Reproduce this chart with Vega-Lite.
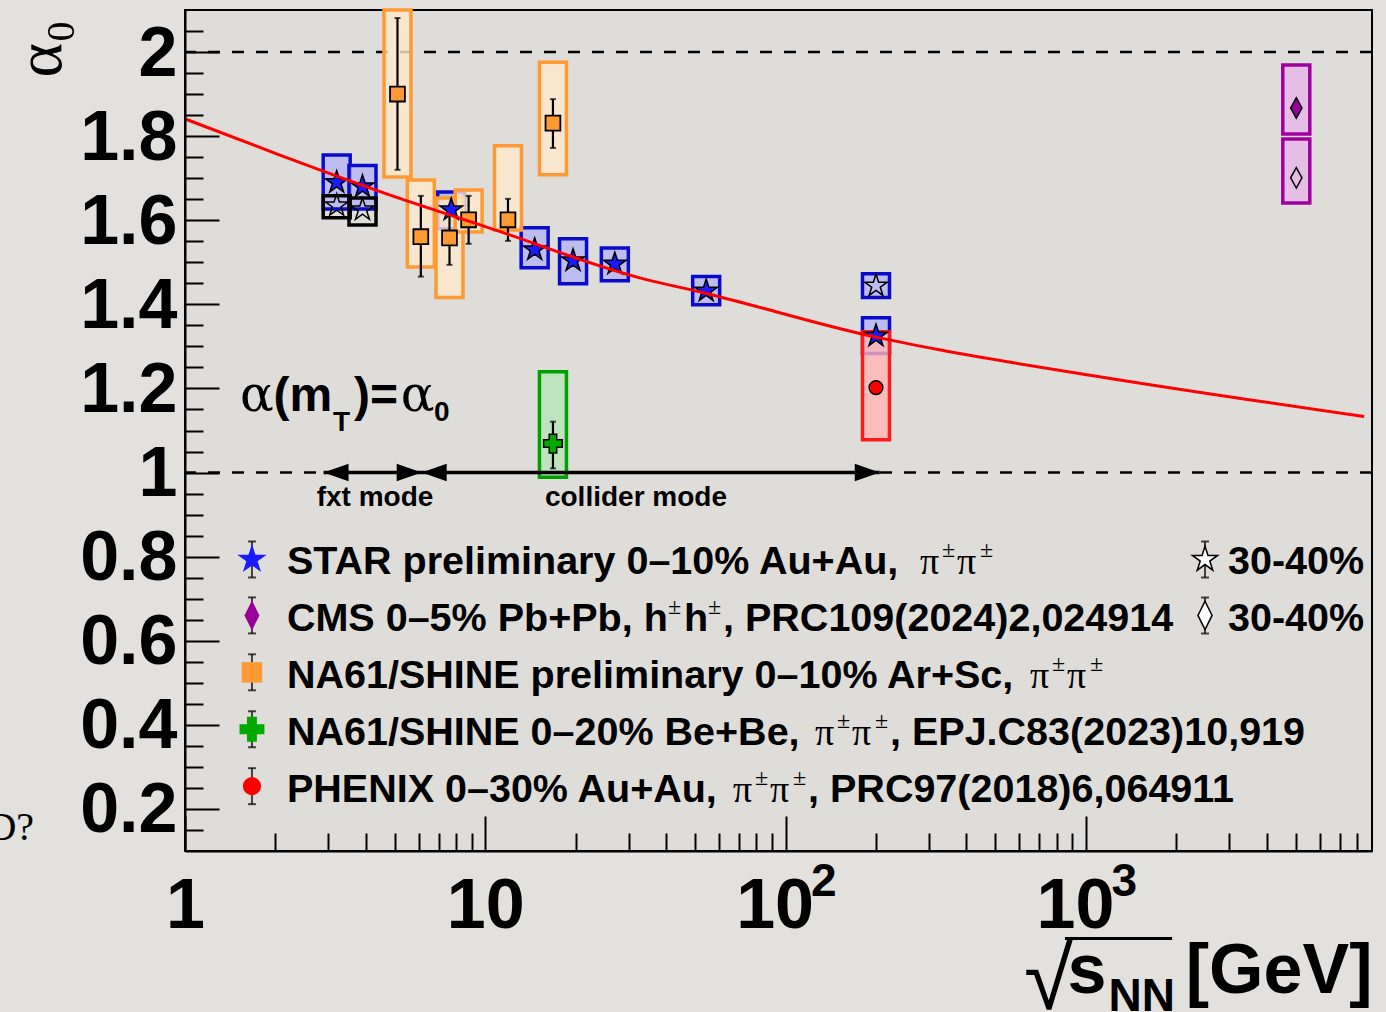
{
  "$schema": "https://vega.github.io/schema/vega-lite/v6.json",
  "width": 1187,
  "height": 841,
  "autosize": {"type": "none"},
  "padding": {"left": 185, "top": 10, "right": 14, "bottom": 161},
  "background": "#e3e1de",
  "config": {
    "view": {"stroke": "black", "strokeWidth": 2, "fill": "#dfddd9"},
    "axis": {"zindex": 1, "grid": false}
  },
  "datasets": {
    "points": [
      {"series": "STAR 0-10%", "x": 3.2, "y": 1.69, "slo": 1.627, "shi": 1.755},
      {"series": "STAR 0-10%", "x": 3.9, "y": 1.68, "slo": 1.627, "shi": 1.73},
      {"series": "STAR 0-10%", "x": 7.7, "y": 1.625, "slo": 1.58, "shi": 1.667},
      {"series": "STAR 0-10%", "x": 14.6, "y": 1.53, "slo": 1.487, "shi": 1.582},
      {"series": "STAR 0-10%", "x": 19.6, "y": 1.504, "slo": 1.449, "shi": 1.556},
      {"series": "STAR 0-10%", "x": 27, "y": 1.496, "slo": 1.456, "shi": 1.534},
      {"series": "STAR 0-10%", "x": 54.4, "y": 1.432, "slo": 1.399, "shi": 1.466},
      {"series": "STAR 0-10%", "x": 200, "y": 1.325, "slo": 1.283, "shi": 1.368},
      {"series": "STAR 30-40% FXT", "x": 3.2, "y": 1.635, "slo": 1.606, "shi": 1.658},
      {"series": "STAR 30-40% FXT", "x": 3.9, "y": 1.625, "slo": 1.589, "shi": 1.653},
      {"series": "STAR 30-40%", "x": 200, "y": 1.444, "slo": 1.416, "shi": 1.473},
      {"series": "NA61 Ar+Sc", "x": 5.1, "y": 1.9, "elo": 1.72, "ehi": 2.081, "slo": 1.703, "shi": 2.1},
      {"series": "NA61 Ar+Sc", "x": 6.1, "y": 1.561, "elo": 1.466, "ehi": 1.658, "slo": 1.489, "shi": 1.696},
      {"series": "NA61 Ar+Sc", "x": 7.6, "y": 1.558, "elo": 1.494, "ehi": 1.62, "slo": 1.416, "shi": 1.653},
      {"series": "NA61 Ar+Sc", "x": 8.8, "y": 1.601, "elo": 1.544, "ehi": 1.658, "slo": 1.572, "shi": 1.672},
      {"series": "NA61 Ar+Sc", "x": 11.9, "y": 1.601, "elo": 1.551, "ehi": 1.651, "slo": 1.577, "shi": 1.777},
      {"series": "NA61 Ar+Sc", "x": 16.8, "y": 1.831, "elo": 1.772, "ehi": 1.888, "slo": 1.708, "shi": 1.976},
      {"series": "NA61 Be+Be", "x": 16.8, "y": 1.069, "elo": 1.01, "ehi": 1.121, "slo": 0.989, "shi": 1.24},
      {"series": "PHENIX", "x": 200, "y": 1.202, "elo": 1.188, "ehi": 1.214, "slo": 1.078, "shi": 1.335},
      {"series": "CMS 0-5%", "x": 5020, "y": 1.867, "slo": 1.805, "shi": 1.969},
      {"series": "CMS 30-40%", "x": 5020, "y": 1.701, "slo": 1.641, "shi": 1.793}
    ],
    "curve": [
      {"x": 1, "y": 1.841}, {"x": 2.07, "y": 1.755}, {"x": 5.19, "y": 1.652}, {"x": 10, "y": 1.585},
      {"x": 32.7, "y": 1.463}, {"x": 54.4, "y": 1.426}, {"x": 200, "y": 1.322}, {"x": 325, "y": 1.292},
      {"x": 1109, "y": 1.228}, {"x": 8450, "y": 1.133}
    ],
    "hlines": [{"y": 1}, {"y": 2}],
    "shaft": [{"x": 2.894, "x2": 205.9, "y": 1}],
    "heads": [
      {"x": 2.894, "y": 1, "dir": "left"}, {"x": 6.14, "y": 1, "dir": "right"},
      {"x": 6.14, "y": 1, "dir": "left"}, {"x": 205.9, "y": 1, "dir": "right"}
    ],
    "legmarks": [
      {"series": "STAR 0-10%", "x": 1.671, "y": 0.7933},
      {"series": "CMS 0-5%", "x": 1.671, "y": 0.6603},
      {"series": "NA61 Ar+Sc", "x": 1.671, "y": 0.5249},
      {"series": "NA61 Be+Be", "x": 1.671, "y": 0.3895},
      {"series": "PHENIX", "x": 1.671, "y": 0.2542},
      {"series": "STAR 30-40%", "x": 2493, "y": 0.7933},
      {"series": "CMS 30-40%", "x": 2493, "y": 0.6603}
    ],
    "legtext": [
      {"x": 2.185, "y": 0.7577, "t": "STAR preliminary 0–10% Au+Au,"},
      {"x": 2.185, "y": 0.6223, "t": "CMS 0–5% Pb+Pb, h"},
      {"x": 45.9, "y": 0.6223, "t": "h"},
      {"x": 61.9, "y": 0.6223, "t": ", PRC109(2024)2,024914"},
      {"x": 2.185, "y": 0.4869, "t": "NA61/SHINE preliminary 0–10% Ar+Sc,"},
      {"x": 2.185, "y": 0.3515, "t": "NA61/SHINE 0–20% Be+Be,"},
      {"x": 222.7, "y": 0.3515, "t": ", EPJ.C83(2023)10,919"},
      {"x": 2.185, "y": 0.2162, "t": "PHENIX 0–30% Au+Au,"},
      {"x": 118.8, "y": 0.2162, "t": ", PRC97(2018)6,064911"},
      {"x": 2973, "y": 0.7577, "t": "30-40%"},
      {"x": 2973, "y": 0.6223, "t": "30-40%"}
    ],
    "legpi": [
      {"x": 280.3, "y": 0.7577, "t": "π"}, {"x": 372.2, "y": 0.7577, "t": "π"},
      {"x": 651.5, "y": 0.4869, "t": "π"}, {"x": 865.0, "y": 0.4869, "t": "π"},
      {"x": 125.3, "y": 0.3515, "t": "π"}, {"x": 166.4, "y": 0.3515, "t": "π"},
      {"x": 66.8, "y": 0.2162, "t": "π"}, {"x": 88.8, "y": 0.2162, "t": "π"}
    ],
    "legpm": [
      {"x": 331.8, "y": 0.7981, "t": "±"}, {"x": 444.0, "y": 0.7981, "t": "±"},
      {"x": 40.6, "y": 0.6627, "t": "±"}, {"x": 55.2, "y": 0.6627, "t": "±"},
      {"x": 771.2, "y": 0.5273, "t": "±"}, {"x": 1031.9, "y": 0.5273, "t": "±"},
      {"x": 148.3, "y": 0.3919, "t": "±"}, {"x": 198.5, "y": 0.3919, "t": "±"},
      {"x": 79.1, "y": 0.2565, "t": "±"}, {"x": 105.8, "y": 0.2565, "t": "±"}
    ],
    "annserif": [
      {"x": 1.5246, "y": 1.1473, "t": "α"},
      {"x": 5.232, "y": 1.1473, "t": "α"}
    ],
    "annsans": [
      {"x": 1.9727, "y": 1.1473, "t": "(m"},
      {"x": 3.654, "y": 1.1473, "t": ")="}
    ],
    "annsub": [
      {"x": 3.11, "y": 1.0998, "t": "T"},
      {"x": 6.75, "y": 1.1235, "t": "0"}
    ],
    "modes": [
      {"x": 4.294, "y": 0.92, "t": "fxt mode"},
      {"x": 31.75, "y": 0.92, "t": "collider mode"}
    ],
    "stray": [{"x": 0.3143, "y": 0.1259, "t": "D?"}]
  },
  "layer": [
    {
      "data": {"name": "hlines"},
      "mark": {"type": "rule", "color": "black", "strokeWidth": 2.5, "strokeDash": [12, 12]},
      "encoding": {
        "y": {"field": "y", "type": "quantitative", "scale": {"domain": [0.1, 2.1], "nice": false, "zero": false}, "axis": null}
      }
    },
    {
      "data": {"name": "points"},
      "mark": {"type": "rect", "width": 27, "strokeWidth": 3.5, "fillOpacity": 0.8},
      "encoding": {
        "x": {"field": "x", "type": "quantitative", "scale": {"type": "log", "domain": [1, 8970], "nice": false},
          "axis": {"orient": "bottom", "values": [1, 10, 100, 1000],
            "labelExpr": "datum.value == 1 ? '1' : datum.value == 10 ? '10' : ''",
            "tickSize": -35, "tickWidth": 2, "tickColor": "black", "domain": true, "domainColor": "black", "domainWidth": 2,
            "labelPadding": 56, "labelFont": "Liberation Sans", "labelFontSize": 70, "labelFontWeight": "bold", "labelColor": "black",
            "labelFlush": false, "labelOverlap": false, "labelBaseline": "top", "labelAlign": "center", "grid": false,
            "title": "[GeV]", "titleFont": "Liberation Sans", "titleFontSize": 70, "titleFontWeight": "bold", "titleColor": "black",
            "titleX": 1187, "titleY": 141, "titleAlign": "right", "titleBaseline": "alphabetic", "zindex": 1}},
        "y": {"field": "slo", "type": "quantitative", "scale": {"domain": [0.1, 2.1], "nice": false, "zero": false},
          "axis": {"orient": "left", "values": [0.2, 0.4, 0.6, 0.8, 1, 1.2, 1.4, 1.6, 1.8, 2], "format": "~g",
            "tickSize": -34, "tickWidth": 2, "tickColor": "black", "domainColor": "black", "domainWidth": 2,
            "labelPadding": 42, "labelOffset": 2, "labelFont": "Liberation Sans", "labelFontSize": 70, "labelFontWeight": "bold",
            "labelColor": "black", "labelOverlap": false, "labelFlush": false, "labelAlign": "right", "labelBaseline": "middle", "grid": false,
            "title": "α₀", "titleFont": "Liberation Serif", "titleFontSize": 66, "titleFontWeight": "normal", "titleColor": "black",
            "titleAngle": 270, "titleX": -125, "titleY": 67, "titleAlign": "left", "titleBaseline": "alphabetic", "zindex": 1}},
        "y2": {"field": "shi"},
        "fill": {"field": "series", "type": "nominal", "legend": null,
          "scale": {"domain": ["STAR 0-10%", "STAR 30-40%", "STAR 30-40% FXT", "NA61 Ar+Sc", "NA61 Be+Be", "PHENIX", "CMS 0-5%", "CMS 30-40%"],
            "range": ["#b4b4f4", "#b4b4f4", "transparent", "#ffe9cc", "#b7e4b8", "#ffb5b4", "#e6b5e7", "#e6b5e7"]}},
        "stroke": {"field": "series", "type": "nominal", "legend": null,
          "scale": {"domain": ["STAR 0-10%", "STAR 30-40%", "STAR 30-40% FXT", "NA61 Ar+Sc", "NA61 Be+Be", "PHENIX", "CMS 0-5%", "CMS 30-40%"],
            "range": ["#0a0acc", "#0a0acc", "#000000", "#ff9933", "#00a000", "#ff1a1a", "#a000a0", "#a000a0"]}}
      }
    },
    {
      "data": {"name": "points"},
      "transform": [{"filter": "datum.elo != null"}],
      "mark": {"type": "rule", "color": "black", "strokeWidth": 2.2},
      "encoding": {
        "x": {"field": "x", "type": "quantitative", "scale": {"type": "log", "domain": [1, 8970], "nice": false},
          "axis": {"orient": "bottom", "values": [2, 3, 4, 5, 6, 7, 8, 9, 20, 30, 40, 50, 60, 70, 80, 90, 200, 300, 400, 500, 600, 700, 800, 900, 2000, 3000, 4000, 5000, 6000, 7000, 8000],
            "tickSize": -18, "tickWidth": 2, "tickColor": "black", "labels": false, "domain": false, "grid": false,
            "title": "NN", "titleFont": "Liberation Sans", "titleFontSize": 46, "titleFontWeight": "bold", "titleColor": "black",
            "titleX": 923, "titleY": 159, "titleAlign": "left", "titleBaseline": "alphabetic", "zindex": 1}},
        "y": {"field": "elo", "type": "quantitative", "scale": {"domain": [0.1, 2.1], "nice": false, "zero": false},
          "axis": {"orient": "left", "values": [0.15, 0.25, 0.3, 0.35, 0.45, 0.5, 0.55, 0.65, 0.7, 0.75, 0.85, 0.9, 0.95, 1.05, 1.1, 1.15, 1.25, 1.3, 1.35, 1.45, 1.5, 1.55, 1.65, 1.7, 1.75, 1.85, 1.9, 1.95, 2.05],
            "tickSize": -18, "tickWidth": 2, "tickColor": "black", "labels": false, "domain": false, "grid": false, "title": null, "zindex": 1}},
        "y2": {"field": "ehi"}
      }
    },
    {
      "data": {"name": "points"},
      "transform": [{"filter": "datum.elo != null"}],
      "mark": {"type": "tick", "orient": "horizontal", "size": 6, "thickness": 2, "color": "black"},
      "encoding": {
        "x": {"field": "x", "type": "quantitative", "scale": {"type": "log", "domain": [1, 8970], "nice": false},
          "axis": {"orient": "bottom", "values": [100, 1000], "labelExpr": "'10'", "ticks": false, "tickSize": 0, "domain": false, "grid": false,
            "labelPadding": 21, "labelOffset": -11, "labelFont": "Liberation Sans", "labelFontSize": 70, "labelFontWeight": "bold", "labelColor": "black",
            "labelFlush": false, "labelOverlap": false, "labelBaseline": "top", "labelAlign": "center",
            "title": "¯¯¯", "titleFont": "Liberation Sans", "titleFontSize": 64, "titleFontWeight": "normal", "titleColor": "black",
            "titleX": 880, "titleY": 134, "titleAlign": "left", "titleBaseline": "alphabetic", "zindex": 1}},
        "y": {"field": "elo", "type": "quantitative", "scale": {"domain": [0.1, 2.1], "nice": false, "zero": false}, "axis": null}
      }
    },
    {
      "data": {"name": "points"},
      "transform": [{"filter": "datum.elo != null"}],
      "mark": {"type": "tick", "orient": "horizontal", "size": 6, "thickness": 2, "color": "black"},
      "encoding": {
        "x": {"field": "x", "type": "quantitative", "scale": {"type": "log", "domain": [1, 8970], "nice": false},
          "axis": {"orient": "bottom", "values": [100, 1000], "labelExpr": "datum.value == 100 ? '2' : '3'", "ticks": false, "tickSize": 0, "domain": false, "grid": false,
            "labelPadding": 8, "labelOffset": 25, "labelFont": "Liberation Sans", "labelFontSize": 46, "labelFontWeight": "bold", "labelColor": "black",
            "labelFlush": false, "labelOverlap": false, "labelBaseline": "top", "labelAlign": "left",
            "title": "s", "titleFont": "Liberation Sans", "titleFontSize": 70, "titleFontWeight": "bold", "titleColor": "black",
            "titleX": 882, "titleY": 141, "titleAlign": "left", "titleBaseline": "alphabetic", "zindex": 1}},
        "y": {"field": "ehi", "type": "quantitative", "scale": {"domain": [0.1, 2.1], "nice": false, "zero": false}, "axis": null}
      }
    },
    {
      "data": {"name": "points"},
      "transform": [{"filter": "datum.series == 'STAR 0-10%'"}],
      "mark": {"type": "point", "shape": "M0,-1L0.2245,-0.309L0.9511,-0.309L0.3633,0.118L0.5878,0.809L0,0.382L-0.5878,0.809L-0.3633,0.118L-0.9511,-0.309L-0.2245,-0.309Z", "filled": true, "fill": "#1a1aff", "stroke": "black", "strokeWidth": 1.5, "opacity": 1, "size": 560},
      "encoding": {
        "x": {"field": "x", "type": "quantitative", "scale": {"type": "log", "domain": [1, 8970], "nice": false},
          "axis": {"orient": "bottom", "ticks": false, "labels": false, "domain": false, "grid": false,
            "title": "√", "titleFont": "Liberation Sans", "titleFontSize": 90, "titleFontWeight": "normal", "titleColor": "black",
            "titleX": 888, "titleY": 157, "titleAlign": "right", "titleBaseline": "alphabetic", "zindex": 1}},
        "y": {"field": "y", "type": "quantitative", "scale": {"domain": [0.1, 2.1], "nice": false, "zero": false}, "axis": null}
      }
    },
    {
      "data": {"name": "points"},
      "transform": [{"filter": "datum.series == 'STAR 30-40%' || datum.series == 'STAR 30-40% FXT'"}],
      "mark": {"type": "point", "shape": "M0,-1L0.2245,-0.309L0.9511,-0.309L0.3633,0.118L0.5878,0.809L0,0.382L-0.5878,0.809L-0.3633,0.118L-0.9511,-0.309L-0.2245,-0.309Z", "filled": false, "stroke": "black", "strokeWidth": 1.5, "opacity": 1, "size": 560},
      "encoding": {
        "x": {"field": "x", "type": "quantitative", "scale": {"type": "log", "domain": [1, 8970], "nice": false}, "axis": null},
        "y": {"field": "y", "type": "quantitative", "scale": {"domain": [0.1, 2.1], "nice": false, "zero": false}, "axis": null}
      }
    },
    {
      "data": {"name": "points"},
      "transform": [{"filter": "datum.series == 'NA61 Ar+Sc'"}],
      "mark": {"type": "point", "shape": "square", "filled": true, "fill": "#ff9933", "stroke": "black", "strokeWidth": 1.8, "opacity": 1, "size": 220},
      "encoding": {
        "x": {"field": "x", "type": "quantitative", "scale": {"type": "log", "domain": [1, 8970], "nice": false}, "axis": null},
        "y": {"field": "y", "type": "quantitative", "scale": {"domain": [0.1, 2.1], "nice": false, "zero": false}, "axis": null}
      }
    },
    {
      "data": {"name": "points"},
      "transform": [{"filter": "datum.series == 'NA61 Be+Be'"}],
      "mark": {"type": "point", "shape": "cross", "filled": true, "fill": "#00aa00", "stroke": "black", "strokeWidth": 1.5, "opacity": 1, "size": 350},
      "encoding": {
        "x": {"field": "x", "type": "quantitative", "scale": {"type": "log", "domain": [1, 8970], "nice": false}, "axis": null},
        "y": {"field": "y", "type": "quantitative", "scale": {"domain": [0.1, 2.1], "nice": false, "zero": false}, "axis": null}
      }
    },
    {
      "data": {"name": "points"},
      "transform": [{"filter": "datum.series == 'PHENIX'"}],
      "mark": {"type": "point", "shape": "circle", "filled": true, "fill": "#ff0000", "stroke": "black", "strokeWidth": 1.5, "opacity": 1, "size": 190},
      "encoding": {
        "x": {"field": "x", "type": "quantitative", "scale": {"type": "log", "domain": [1, 8970], "nice": false}, "axis": null},
        "y": {"field": "y", "type": "quantitative", "scale": {"domain": [0.1, 2.1], "nice": false, "zero": false}, "axis": null}
      }
    },
    {
      "data": {"name": "points"},
      "transform": [{"filter": "datum.series == 'CMS 0-5%'"}],
      "mark": {"type": "point", "shape": "M0,-1L0.55,0L0,1L-0.55,0Z", "filled": true, "fill": "#990099", "stroke": "black", "strokeWidth": 1.5, "opacity": 1, "size": 420},
      "encoding": {
        "x": {"field": "x", "type": "quantitative", "scale": {"type": "log", "domain": [1, 8970], "nice": false}, "axis": null},
        "y": {"field": "y", "type": "quantitative", "scale": {"domain": [0.1, 2.1], "nice": false, "zero": false}, "axis": null}
      }
    },
    {
      "data": {"name": "points"},
      "transform": [{"filter": "datum.series == 'CMS 30-40%'"}],
      "mark": {"type": "point", "shape": "M0,-1L0.55,0L0,1L-0.55,0Z", "filled": false, "stroke": "black", "strokeWidth": 1.5, "opacity": 1, "size": 420},
      "encoding": {
        "x": {"field": "x", "type": "quantitative", "scale": {"type": "log", "domain": [1, 8970], "nice": false}, "axis": null},
        "y": {"field": "y", "type": "quantitative", "scale": {"domain": [0.1, 2.1], "nice": false, "zero": false}, "axis": null}
      }
    },
    {
      "data": {"name": "curve"},
      "mark": {"type": "line", "color": "#ff0000", "strokeWidth": 3, "interpolate": "monotone"},
      "encoding": {
        "x": {"field": "x", "type": "quantitative", "scale": {"type": "log", "domain": [1, 8970], "nice": false}, "axis": null},
        "y": {"field": "y", "type": "quantitative", "scale": {"domain": [0.1, 2.1], "nice": false, "zero": false}, "axis": null}
      }
    },
    {
      "data": {"name": "shaft"},
      "mark": {"type": "rule", "color": "black", "strokeWidth": 3.5},
      "encoding": {
        "x": {"field": "x", "type": "quantitative", "scale": {"type": "log", "domain": [1, 8970], "nice": false}, "axis": null},
        "x2": {"field": "x2"},
        "y": {"field": "y", "type": "quantitative", "scale": {"domain": [0.1, 2.1], "nice": false, "zero": false}, "axis": null}
      }
    },
    {
      "data": {"name": "heads"},
      "transform": [{"filter": "datum.dir == 'left'"}],
      "mark": {"type": "point", "shape": "M0,0L2,-0.7L2,0.7Z", "filled": true, "color": "black", "opacity": 1, "size": 625},
      "encoding": {
        "x": {"field": "x", "type": "quantitative", "scale": {"type": "log", "domain": [1, 8970], "nice": false}, "axis": null},
        "y": {"field": "y", "type": "quantitative", "scale": {"domain": [0.1, 2.1], "nice": false, "zero": false}, "axis": null}
      }
    },
    {
      "data": {"name": "heads"},
      "transform": [{"filter": "datum.dir == 'right'"}],
      "mark": {"type": "point", "shape": "M0,0L-2,-0.7L-2,0.7Z", "filled": true, "color": "black", "opacity": 1, "size": 625},
      "encoding": {
        "x": {"field": "x", "type": "quantitative", "scale": {"type": "log", "domain": [1, 8970], "nice": false}, "axis": null},
        "y": {"field": "y", "type": "quantitative", "scale": {"domain": [0.1, 2.1], "nice": false, "zero": false}, "axis": null}
      }
    },
    {
      "data": {"name": "legmarks"},
      "mark": {"type": "tick", "orient": "vertical", "size": 36, "thickness": 2, "color": "black"},
      "encoding": {
        "x": {"field": "x", "type": "quantitative", "scale": {"type": "log", "domain": [1, 8970], "nice": false}, "axis": null},
        "y": {"field": "y", "type": "quantitative", "scale": {"domain": [0.1, 2.1], "nice": false, "zero": false}, "axis": null}
      }
    },
    {
      "data": {"name": "legmarks"},
      "mark": {"type": "tick", "orient": "horizontal", "size": 8, "thickness": 2, "color": "black", "yOffset": -18},
      "encoding": {
        "x": {"field": "x", "type": "quantitative", "scale": {"type": "log", "domain": [1, 8970], "nice": false}, "axis": null},
        "y": {"field": "y", "type": "quantitative", "scale": {"domain": [0.1, 2.1], "nice": false, "zero": false}, "axis": null}
      }
    },
    {
      "data": {"name": "legmarks"},
      "mark": {"type": "tick", "orient": "horizontal", "size": 8, "thickness": 2, "color": "black", "yOffset": 18},
      "encoding": {
        "x": {"field": "x", "type": "quantitative", "scale": {"type": "log", "domain": [1, 8970], "nice": false}, "axis": null},
        "y": {"field": "y", "type": "quantitative", "scale": {"domain": [0.1, 2.1], "nice": false, "zero": false}, "axis": null}
      }
    },
    {
      "data": {"name": "legmarks"},
      "transform": [{"filter": "datum.series == 'STAR 0-10%'"}],
      "mark": {"type": "point", "shape": "M0,-1L0.2245,-0.309L0.9511,-0.309L0.3633,0.118L0.5878,0.809L0,0.382L-0.5878,0.809L-0.3633,0.118L-0.9511,-0.309L-0.2245,-0.309Z", "filled": true, "fill": "#1a1aff", "strokeWidth": 0, "opacity": 1, "size": 960},
      "encoding": {
        "x": {"field": "x", "type": "quantitative", "scale": {"type": "log", "domain": [1, 8970], "nice": false}, "axis": null},
        "y": {"field": "y", "type": "quantitative", "scale": {"domain": [0.1, 2.1], "nice": false, "zero": false}, "axis": null}
      }
    },
    {
      "data": {"name": "legmarks"},
      "transform": [{"filter": "datum.series == 'STAR 30-40%'"}],
      "mark": {"type": "point", "shape": "M0,-1L0.2245,-0.309L0.9511,-0.309L0.3633,0.118L0.5878,0.809L0,0.382L-0.5878,0.809L-0.3633,0.118L-0.9511,-0.309L-0.2245,-0.309Z", "filled": true, "fill": "#ffffff", "stroke": "black", "strokeWidth": 1.5, "opacity": 1, "size": 700},
      "encoding": {
        "x": {"field": "x", "type": "quantitative", "scale": {"type": "log", "domain": [1, 8970], "nice": false}, "axis": null},
        "y": {"field": "y", "type": "quantitative", "scale": {"domain": [0.1, 2.1], "nice": false, "zero": false}, "axis": null}
      }
    },
    {
      "data": {"name": "legmarks"},
      "transform": [{"filter": "datum.series == 'NA61 Ar+Sc'"}],
      "mark": {"type": "point", "shape": "square", "filled": true, "fill": "#ff9933", "strokeWidth": 0, "opacity": 1, "size": 420},
      "encoding": {
        "x": {"field": "x", "type": "quantitative", "scale": {"type": "log", "domain": [1, 8970], "nice": false}, "axis": null},
        "y": {"field": "y", "type": "quantitative", "scale": {"domain": [0.1, 2.1], "nice": false, "zero": false}, "axis": null}
      }
    },
    {
      "data": {"name": "legmarks"},
      "transform": [{"filter": "datum.series == 'NA61 Be+Be'"}],
      "mark": {"type": "point", "shape": "cross", "filled": true, "fill": "#00aa00", "strokeWidth": 0, "opacity": 1, "size": 620},
      "encoding": {
        "x": {"field": "x", "type": "quantitative", "scale": {"type": "log", "domain": [1, 8970], "nice": false}, "axis": null},
        "y": {"field": "y", "type": "quantitative", "scale": {"domain": [0.1, 2.1], "nice": false, "zero": false}, "axis": null}
      }
    },
    {
      "data": {"name": "legmarks"},
      "transform": [{"filter": "datum.series == 'PHENIX'"}],
      "mark": {"type": "point", "shape": "circle", "filled": true, "fill": "#ff0000", "strokeWidth": 0, "opacity": 1, "size": 330},
      "encoding": {
        "x": {"field": "x", "type": "quantitative", "scale": {"type": "log", "domain": [1, 8970], "nice": false}, "axis": null},
        "y": {"field": "y", "type": "quantitative", "scale": {"domain": [0.1, 2.1], "nice": false, "zero": false}, "axis": null}
      }
    },
    {
      "data": {"name": "legmarks"},
      "transform": [{"filter": "datum.series == 'CMS 0-5%'"}],
      "mark": {"type": "point", "shape": "M0,-1L0.5,0L0,1L-0.5,0Z", "filled": true, "fill": "#990099", "strokeWidth": 0, "opacity": 1, "size": 900},
      "encoding": {
        "x": {"field": "x", "type": "quantitative", "scale": {"type": "log", "domain": [1, 8970], "nice": false}, "axis": null},
        "y": {"field": "y", "type": "quantitative", "scale": {"domain": [0.1, 2.1], "nice": false, "zero": false}, "axis": null}
      }
    },
    {
      "data": {"name": "legmarks"},
      "transform": [{"filter": "datum.series == 'CMS 30-40%'"}],
      "mark": {"type": "point", "shape": "M0,-1L0.5,0L0,1L-0.5,0Z", "filled": true, "fill": "#ffffff", "stroke": "black", "strokeWidth": 1.5, "opacity": 1, "size": 800},
      "encoding": {
        "x": {"field": "x", "type": "quantitative", "scale": {"type": "log", "domain": [1, 8970], "nice": false}, "axis": null},
        "y": {"field": "y", "type": "quantitative", "scale": {"domain": [0.1, 2.1], "nice": false, "zero": false}, "axis": null}
      }
    },
    {
      "data": {"name": "legtext"},
      "mark": {"type": "text", "font": "Liberation Sans", "fontSize": 39.5, "fontWeight": "bold", "color": "black", "align": "left", "baseline": "alphabetic"},
      "encoding": {
        "x": {"field": "x", "type": "quantitative", "scale": {"type": "log", "domain": [1, 8970], "nice": false}, "axis": null},
        "y": {"field": "y", "type": "quantitative", "scale": {"domain": [0.1, 2.1], "nice": false, "zero": false}, "axis": null},
        "text": {"field": "t"}
      }
    },
    {
      "data": {"name": "legpi"},
      "mark": {"type": "text", "font": "Liberation Serif", "fontSize": 38, "color": "black", "align": "left", "baseline": "alphabetic"},
      "encoding": {
        "x": {"field": "x", "type": "quantitative", "scale": {"type": "log", "domain": [1, 8970], "nice": false}, "axis": null},
        "y": {"field": "y", "type": "quantitative", "scale": {"domain": [0.1, 2.1], "nice": false, "zero": false}, "axis": null},
        "text": {"field": "t"}
      }
    },
    {
      "data": {"name": "legpm"},
      "mark": {"type": "text", "font": "Liberation Serif", "fontSize": 24, "color": "black", "align": "left", "baseline": "alphabetic"},
      "encoding": {
        "x": {"field": "x", "type": "quantitative", "scale": {"type": "log", "domain": [1, 8970], "nice": false}, "axis": null},
        "y": {"field": "y", "type": "quantitative", "scale": {"domain": [0.1, 2.1], "nice": false, "zero": false}, "axis": null},
        "text": {"field": "t"}
      }
    },
    {
      "data": {"name": "annserif"},
      "mark": {"type": "text", "font": "DejaVu Serif", "fontSize": 50, "color": "black", "align": "left", "baseline": "alphabetic"},
      "encoding": {
        "x": {"field": "x", "type": "quantitative", "scale": {"type": "log", "domain": [1, 8970], "nice": false}, "axis": null},
        "y": {"field": "y", "type": "quantitative", "scale": {"domain": [0.1, 2.1], "nice": false, "zero": false}, "axis": null},
        "text": {"field": "t"}
      }
    },
    {
      "data": {"name": "annsans"},
      "mark": {"type": "text", "font": "Liberation Sans", "fontSize": 48, "fontWeight": "bold", "color": "black", "align": "left", "baseline": "alphabetic"},
      "encoding": {
        "x": {"field": "x", "type": "quantitative", "scale": {"type": "log", "domain": [1, 8970], "nice": false}, "axis": null},
        "y": {"field": "y", "type": "quantitative", "scale": {"domain": [0.1, 2.1], "nice": false, "zero": false}, "axis": null},
        "text": {"field": "t"}
      }
    },
    {
      "data": {"name": "annsub"},
      "mark": {"type": "text", "font": "Liberation Sans", "fontSize": 28, "fontWeight": "bold", "color": "black", "align": "left", "baseline": "alphabetic"},
      "encoding": {
        "x": {"field": "x", "type": "quantitative", "scale": {"type": "log", "domain": [1, 8970], "nice": false}, "axis": null},
        "y": {"field": "y", "type": "quantitative", "scale": {"domain": [0.1, 2.1], "nice": false, "zero": false}, "axis": null},
        "text": {"field": "t"}
      }
    },
    {
      "data": {"name": "modes"},
      "mark": {"type": "text", "font": "Liberation Sans", "fontSize": 28, "fontWeight": "bold", "color": "black", "align": "center", "baseline": "alphabetic"},
      "encoding": {
        "x": {"field": "x", "type": "quantitative", "scale": {"type": "log", "domain": [1, 8970], "nice": false}, "axis": null},
        "y": {"field": "y", "type": "quantitative", "scale": {"domain": [0.1, 2.1], "nice": false, "zero": false}, "axis": null},
        "text": {"field": "t"}
      }
    },
    {
      "data": {"name": "stray"},
      "mark": {"type": "text", "font": "Liberation Serif", "fontSize": 40, "color": "black", "align": "right", "baseline": "alphabetic"},
      "encoding": {
        "x": {"field": "x", "type": "quantitative", "scale": {"type": "log", "domain": [1, 8970], "nice": false}, "axis": null},
        "y": {"field": "y", "type": "quantitative", "scale": {"domain": [0.1, 2.1], "nice": false, "zero": false}, "axis": null},
        "text": {"field": "t"}
      }
    }
  ],
  "resolve": {
    "scale": {"fill": "independent", "stroke": "independent"},
    "axis": {"x": "independent", "y": "independent"}
  }
}
